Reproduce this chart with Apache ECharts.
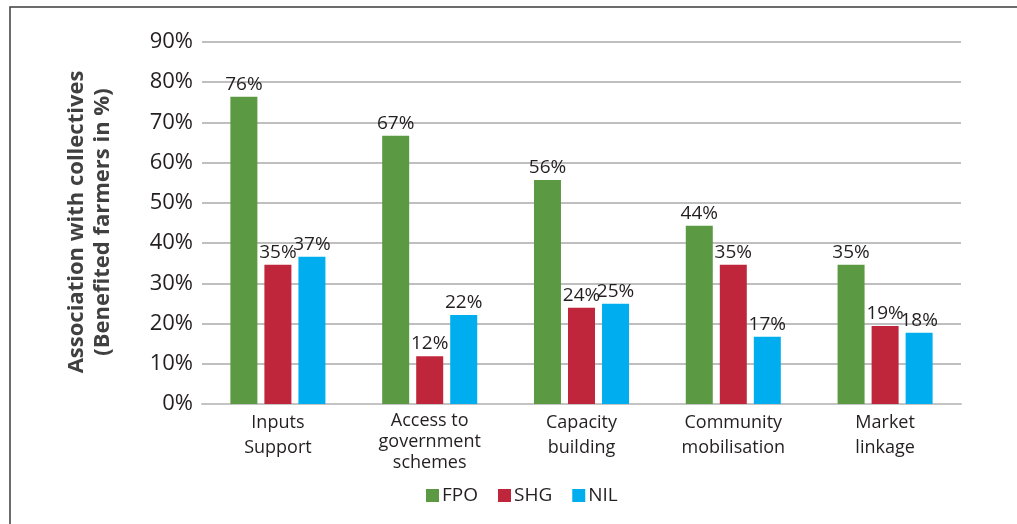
<!DOCTYPE html>
<html>
<head>
<meta charset="utf-8">
<script src="https://cdn.jsdelivr.net/npm/echarts@6/dist/echarts.min.js"></script>
<style>
  html, body { margin: 0; padding: 0; background: #fff; }
  #chart { width: 1017px; height: 524px; }
</style>
</head>
<body>
<div id="chart"></div>
<script>
// categories along the x axis
const categories = ['Inputs\nSupport', 'Access to\ngovernment\nschemes', 'Capacity\nbuilding', 'Community\nmobilisation', 'Market\nlinkage']
// benefited farmers in %
const fpoData = [76.4, 66.7, 55.7, 44.3, 34.6]
const shgData = [34.6, 11.9, 23.9, 34.6, 19.4]
const nilData = [36.6, 22.1, 24.9, 16.7, 17.7]
const yTicks = { min: 0, max: 90, interval: 10 }

const font = '"Open Sans", "Noto Sans", sans-serif'
const textColor = '#231f20'

const labelOpt = {
  show: true,
  position: 'top',
  distance: 3,
  color: textColor,
  fontFamily: font,
  fontSize: 19,
  formatter: p => Math.round(p.value) + '%'
}

const myChart = echarts.init(document.getElementById('chart'))
myChart.setOption({
  animation: false,
  textStyle: { fontFamily: font },
  grid: {
    left: 202,
    right: 56,
    top: 42,
    bottom: 120
  },
  legend: {
    left: 421,
    top: 481,
    itemWidth: 13,
    itemHeight: 13,
    itemGap: 20,
    icon: 'rect',
    textStyle: { color: textColor, fontSize: 19, fontFamily: font, padding: [0, 0, 0, -2] },
    data: ['FPO', 'SHG', 'NIL']
  },
  xAxis: {
    type: 'category',
    data: categories,
    axisTick: { show: false },
    axisLine: { lineStyle: { color: '#c4c4c4', width: 2 } },
    axisLabel: {
      color: textColor,
      fontSize: 18,
      fontFamily: font,
      margin: 6,
      interval: 0,
      lineHeight: 25,
      formatter: v => v.split('\n').length > 2 ? '{t|' + v + '}' : v,
      rich: { t: { fontSize: 18, fontFamily: font, color: textColor, lineHeight: 21 } }
    }
  },
  yAxis: {
    type: 'value',
    min: yTicks.min,
    max: yTicks.max,
    interval: yTicks.interval,
    axisLine: { show: false },
    axisTick: { show: false },
    axisLabel: {
      color: textColor,
      fontSize: 22,
      fontFamily: font,
      margin: 9,
      formatter: v => v + '%'
    },
    splitLine: { lineStyle: { color: '#aaaaaa', width: 1.5 } }
  },
  graphic: [
    {
      type: 'rect',
      silent: true,
      shape: { x: 10, y: 7, width: 1200, height: 700 },
      style: { fill: 'none', stroke: '#3c3c3c', lineWidth: 1.5 }
    },
    {
      type: 'text',
      x: 90,
      y: 222,
      rotation: Math.PI / 2,
      style: {
        text: 'Association with collectives\n(Benefited farmers in %)',
        fill: '#404040',
        font: 'bold 22px ' + font,
        textAlign: 'center',
        textVerticalAlign: 'middle',
        lineHeight: 26
      }
    }
  ],
  series: [
    {
      name: 'FPO',
      type: 'bar',
      data: fpoData,
      barWidth: 27,
      barGap: '26%',
      itemStyle: { color: '#5b9a42' },
      label: labelOpt
    },
    {
      name: 'SHG',
      type: 'bar',
      data: shgData,
      barWidth: 27,
      barGap: '26%',
      itemStyle: { color: '#c0263b' },
      label: labelOpt
    },
    {
      name: 'NIL',
      type: 'bar',
      data: nilData,
      barWidth: 27,
      barGap: '26%',
      itemStyle: { color: '#00aeef' },
      label: labelOpt
    }
  ]
})
</script>
</body>
</html>
